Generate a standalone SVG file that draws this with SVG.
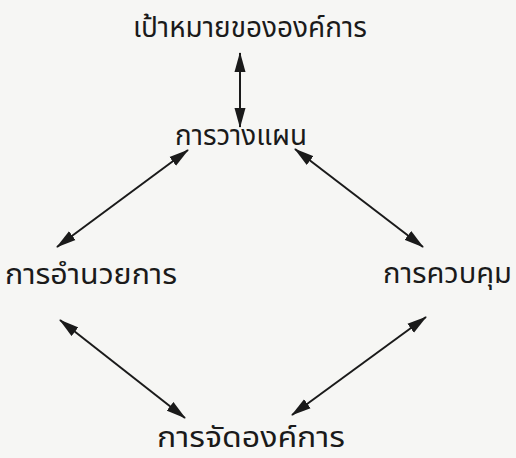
<svg xmlns="http://www.w3.org/2000/svg" width="516" height="458" viewBox="0 0 516 458">
<defs>
<marker id="ah" viewBox="0 0 20 12" refX="19" refY="6" markerWidth="20" markerHeight="12" markerUnits="userSpaceOnUse" orient="auto-start-reverse">
<path d="M0,0.5 L20,6 L0,11.5 Z" fill="#1a1a1a"/>
</marker>
<style>
.t{font-family:"Noto Sans","Noto Sans Thai",sans-serif;font-size:28px;fill:#1a1a1a;text-anchor:middle}
.c{stroke:#1a1a1a;stroke-width:2;fill:none;marker-start:url(#ah);marker-end:url(#ah)}
</style>
</defs>
<rect width="516" height="458" fill="#f6f6f4"/>
<g id="goal"><text class="t" x="250" y="37" textLength="234" lengthAdjust="spacingAndGlyphs">เป้าหมายขององค์การ</text></g>
<g id="planning"><text class="t" x="241" y="145" textLength="132" lengthAdjust="spacingAndGlyphs">การวางแผน</text></g>
<g id="directing"><text class="t" x="91" y="284" textLength="172" lengthAdjust="spacingAndGlyphs">การอำนวยการ</text></g>
<g id="controlling"><text class="t" x="447.5" y="283" textLength="129" lengthAdjust="spacingAndGlyphs">การควบคุม</text></g>
<g id="organizing"><text class="t" x="251" y="447" textLength="188" lengthAdjust="spacingAndGlyphs">การจัดองค์การ</text></g>
<g id="connectors">
<line class="c" x1="240" y1="53" x2="240" y2="127"/>
<line class="c" x1="188" y1="150" x2="57" y2="247"/>
<line class="c" x1="295" y1="149" x2="423" y2="247"/>
<line class="c" x1="60" y1="320" x2="185" y2="418"/>
<line class="c" x1="426" y1="317" x2="292" y2="415"/>
</g>
</svg>
